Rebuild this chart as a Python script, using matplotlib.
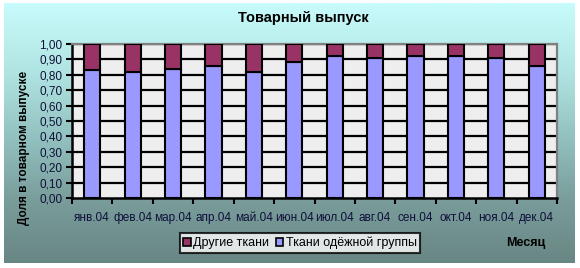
import numpy as np
import matplotlib
matplotlib.use("Agg")
import matplotlib.pyplot as plt
from matplotlib.patches import Patch
from matplotlib.colors import LinearSegmentedColormap

plt.rcParams["font.family"] = ["Liberation Sans", "DejaVu Sans"]

# Monthly output shares
months = ["янв.04", "фев.04", "мар.04", "апр.04", "май.04", "июн.04",
          "июл.04", "авг.04", "сен.04", "окт.04", "ноя.04", "дек.04"]
clothing = [0.83, 0.82, 0.84, 0.86, 0.82, 0.88, 0.92, 0.91, 0.92, 0.92, 0.91, 0.86]
other = [0.17, 0.18, 0.16, 0.14, 0.18, 0.12, 0.08, 0.09, 0.08, 0.08, 0.09, 0.14]
yticks = [0.0, 0.1, 0.2, 0.3, 0.4, 0.5, 0.6, 0.7, 0.8, 0.9, 1.0]

W, H = 580, 268
fig = plt.figure(figsize=(W / 100, H / 100), dpi=100)
fig.patch.set_facecolor("white")

# Gradient backdrop
bg = fig.add_axes([4 / W, 5 / H, 571 / W, 260 / H], zorder=0)
grad = np.linspace(0, 1, 256).reshape(-1, 1)
cmap = LinearSegmentedColormap.from_list(
    "bg", ["#C8FCFC", "#B2E6E4", "#94C4C2", "#7A9E9C", "#688684"])
bg.imshow(grad, aspect="auto", cmap=cmap, extent=[0, 1, 0, 1])
bg.set_axis_off()

ax = fig.add_axes([72 / W, 1 - 198 / H, 485 / W, 154 / H], zorder=1)
ax.set_facecolor("#EEEEEE")
x = np.arange(len(months))
ax.bar(x, clothing, width=0.4, color="#9999FF", edgecolor="black",
       linewidth=1.5, zorder=3)
ax.bar(x, other, width=0.4, bottom=clothing, color="#993366",
       edgecolor="black", linewidth=1.5, zorder=3)

ax.set_xlim(-0.5, len(months) - 0.5)
ax.set_ylim(0, 1)
ax.set_yticks(yticks)
ax.set_yticklabels([f"{v:.2f}".replace(".", ",") for v in yticks],
                   fontsize=8.5, color="#10103A")
for v in yticks[1:]:
    ax.axhline(v, color="black", lw=1.6, zorder=2)

ax.set_xticks(np.arange(-0.5, len(months), 1.0))
ax.set_xticklabels([])
ax.set_xticks(x, minor=True)
ax.set_xticklabels(months, minor=True, fontsize=8.5, color="#10103A")
ax.tick_params(axis="x", which="minor", length=0, pad=10)
ax.tick_params(axis="x", which="major", length=4, width=1.5, direction="out")
ax.tick_params(axis="y", length=4, width=1.5, direction="out", pad=3)

for s in ("left", "bottom"):
    ax.spines[s].set_color("black")
    ax.spines[s].set_linewidth(1.8)
for s in ("top", "right"):
    ax.spines[s].set_color("#808080")
    ax.spines[s].set_linewidth(1.6)

fig.text(303 / W, 1 - 18 / H, "Товарный выпуск", ha="center", va="center",
         fontsize=10.5, fontweight="bold")
fig.text(24 / W, 1 - 148 / H, "Доля в товарном выпуске", rotation=90,
         ha="center", va="center", fontsize=8.5, fontweight="bold")
fig.text(526 / W, 1 - 243 / H, "Месяц", ha="center", va="center",
         fontsize=9, fontweight="bold")

handles = [Patch(facecolor="#993366", edgecolor="black", lw=1.2),
           Patch(facecolor="#9999FF", edgecolor="black", lw=1.2)]
leg = fig.legend(handles, ["Другие ткани", "Ткани одёжной группы"],
                 loc="center", bbox_to_anchor=(300 / W, 1 - 243 / H),
                 ncol=2, fontsize=9, frameon=True, fancybox=False,
                 handlelength=0.6, handleheight=0.6, handletextpad=0.2,
                 columnspacing=0.5, borderpad=0.3, borderaxespad=0)
leg.get_frame().set_edgecolor("black")
leg.get_frame().set_linewidth(1.5)
leg.get_frame().set_facecolor("white")

fig.savefig("out.png", dpi=100)
